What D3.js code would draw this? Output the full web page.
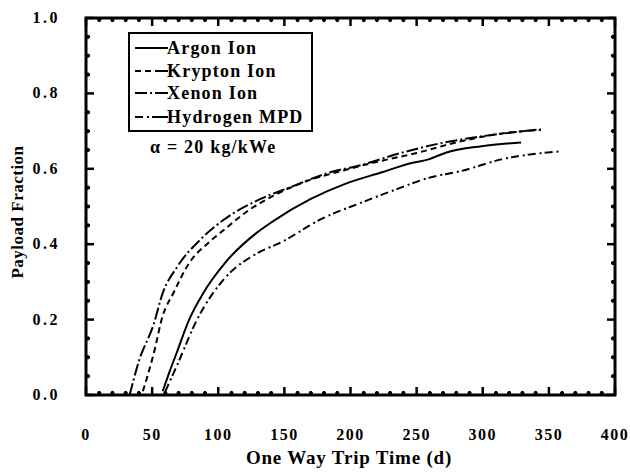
<!DOCTYPE html>
<html><head><meta charset="utf-8">
<script src="https://cdn.jsdelivr.net/npm/d3@7"></script>
<style>body{margin:0;background:#fff}svg{display:block}</style>
</head><body><svg id="c" width="630" height="472"></svg>
<script>
const seriesNames = ["Argon Ion","Krypton Ion","Xenon Ion","Hydrogen MPD"];
const argonX = [58,63,69,78,88.6,105,129,141,170,196,223,247,259,271.5,299,329];
const argonY = [0.01,0.06,0.116,0.20,0.27,0.35,0.43,0.46,0.52,0.56,0.59,0.616,0.625,0.642,0.66,0.67];
const kryptonX = [43,51,58,66,78,93,105,123,141.5,169,193,217,250,283.6,317,344];
const kryptonY = [0.01,0.107,0.21,0.27,0.35,0.405,0.44,0.49,0.528,0.57,0.594,0.616,0.642,0.673,0.695,0.703];
const xenonX = [33,40,51,58,69,87,105,132,153.6,184,208,238,268.5,299,329,344];
const xenonY = [0.0,0.09,0.186,0.27,0.34,0.414,0.467,0.52,0.55,0.59,0.61,0.642,0.668,0.686,0.699,0.705];
const hydrogenX = [60,69,84,105,129,147.5,178,208,238,259,283.6,314,358];
const hydrogenY = [0.01,0.08,0.20,0.31,0.375,0.405,0.467,0.51,0.55,0.576,0.594,0.625,0.646];
const xTicks = [0,50,100,150,200,250,300,350,400];
const yTicks = [0.0,0.2,0.4,0.6,0.8,1.0];
const yTickLabels = ["0.0","0.2","0.4","0.6","0.8","1.0"];
const xTitle = "One Way Trip Time (d)";
const yTitle = "Payload Fraction";
const note = "α = 20 kg/kWe";

const dashes = [null, "6,4", "12,3,2,3", "8,4,2,3"];
const data = [[argonX,argonY],[kryptonX,kryptonY],[xenonX,xenonY],[hydrogenX,hydrogenY]];

const svg = d3.select("#c");
const L=86,R=615,T=18,B=395;
const x = d3.scaleLinear().domain([0,400]).range([L,R]);
const y = d3.scaleLinear().domain([0,1]).range([B,T]);
const font = "'Liberation Serif','Times New Roman',serif";

// minor ticks
const xMinor = d3.range(0,401,10).filter(v=>v%50!==0);
const yMinor = d3.range(0,1.0001,0.05).map(v=>+v.toFixed(2)).filter(v=>Math.round(v*100)%20!==0);
const g = svg.append("g").attr("stroke","#000");
xMinor.forEach(v=>{
  g.append("line").attr("x1",x(v)).attr("x2",x(v)).attr("y1",B).attr("y2",B-4).attr("stroke-width",2);
  g.append("line").attr("x1",x(v)).attr("x2",x(v)).attr("y1",T).attr("y2",T+4).attr("stroke-width",2);
  g.append("circle").attr("cx",x(v)).attr("cy",B-2).attr("r",1.6).attr("fill","#000");
  g.append("circle").attr("cx",x(v)).attr("cy",T+2).attr("r",1.6).attr("fill","#000");
});
yMinor.forEach(v=>{
  g.append("line").attr("x1",L).attr("x2",L+4).attr("y1",y(v)).attr("y2",y(v)).attr("stroke-width",2);
  g.append("line").attr("x1",R).attr("x2",R-4).attr("y1",y(v)).attr("y2",y(v)).attr("stroke-width",2);
  g.append("circle").attr("cx",L+2).attr("cy",y(v)).attr("r",1.6).attr("fill","#000");
  g.append("circle").attr("cx",R-2).attr("cy",y(v)).attr("r",1.6).attr("fill","#000");
});
xTicks.forEach(v=>{
  g.append("line").attr("x1",x(v)).attr("x2",x(v)).attr("y1",B).attr("y2",B-8).attr("stroke-width",2.5);
  g.append("line").attr("x1",x(v)).attr("x2",x(v)).attr("y1",T).attr("y2",T+8).attr("stroke-width",2.5);
});
yTicks.forEach(v=>{
  g.append("line").attr("x1",L).attr("x2",L+8).attr("y1",y(v)).attr("y2",y(v)).attr("stroke-width",2.5);
  g.append("line").attr("x1",R).attr("x2",R-8).attr("y1",y(v)).attr("y2",y(v)).attr("stroke-width",2.5);
});
svg.append("rect").attr("x",L).attr("y",T).attr("width",R-L).attr("height",B-T)
  .attr("fill","none").attr("stroke","#000").attr("stroke-width",3);

// tick labels
svg.append("g").selectAll("text").data(xTicks).join("text")
  .attr("x",d=>x(d)).attr("y",440).attr("text-anchor","middle")
  .attr("font-family",font).attr("font-weight","bold").attr("font-size",16)
  .attr("letter-spacing",1.5).text(d=>d);
svg.append("g").selectAll("text").data(yTicks).join("text")
  .attr("x",60).attr("y",d=>y(d)+5).attr("text-anchor","end")
  .attr("font-family",font).attr("font-weight","bold").attr("font-size",16)
  .attr("letter-spacing",2.5).text((d,i)=>yTickLabels[i]);
svg.append("text").attr("x",349).attr("y",464).attr("text-anchor","middle")
  .attr("font-family",font).attr("font-weight","bold").attr("font-size",19).attr("letter-spacing",0.8).text(xTitle);
svg.append("text").attr("transform","translate(23,212) rotate(-90)").attr("text-anchor","middle")
  .attr("font-family",font).attr("font-weight","bold").attr("font-size",17).attr("letter-spacing",0.5).text(yTitle);

// curves
const line = d3.line().x(d=>x(d[0])).y(d=>y(d[1])).curve(d3.curveMonotoneX);
data.forEach((s,i)=>{
  const pts = s[0].map((v,j)=>[v,s[1][j]]);
  svg.append("path").datum(pts).attr("d",line).attr("fill","none").attr("stroke","#000")
    .attr("stroke-width",2).attr("stroke-dasharray",dashes[i]);
});

// legend
svg.append("rect").attr("x",129).attr("y",33).attr("width",183).attr("height",98)
  .attr("fill","#fff").attr("stroke","#000").attr("stroke-width",2);
const rowY = [48,71,93,117];
seriesNames.forEach((n,i)=>{
  svg.append("line").attr("x1",135).attr("x2",167).attr("y1",rowY[i]).attr("y2",rowY[i])
    .attr("stroke","#000").attr("stroke-width",2).attr("stroke-dasharray",dashes[i]?dashes[i]:null);
  svg.append("line").attr("x1",158).attr("x2",168).attr("y1",rowY[i]).attr("y2",rowY[i])
    .attr("stroke","#000").attr("stroke-width",2);
  svg.append("text").attr("x",167).attr("y",rowY[i]+6).attr("font-family",font)
    .attr("font-weight","bold").attr("font-size",18).attr("letter-spacing",1.2).text(n);
});
svg.append("text").attr("x",150).attr("y",153).attr("font-family",font)
  .attr("font-weight","bold").attr("font-size",18).attr("letter-spacing",1.2).text(note);
</script></body></html>
